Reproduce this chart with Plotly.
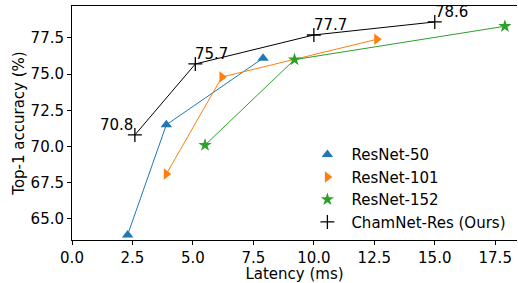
import plotly.graph_objects as go

# Data
r50_lat = [2.3, 3.9, 7.9]
r50_acc = [63.9, 71.5, 76.1]
r101_lat = [3.9, 6.2, 12.6]
r101_acc = [68.1, 74.8, 77.4]
r152_lat = [5.5, 9.2, 17.9]
r152_acc = [70.1, 76.0, 78.3]
cham_lat = [2.6, 5.1, 10.0, 15.0]
cham_acc = [70.8, 75.7, 77.7, 78.6]
cham_labels = ["70.8", "75.7", "77.7", "78.6"]

xticks = [0, 2.5, 5, 7.5, 10, 12.5, 15, 17.5]
yticks = [65, 67.5, 70, 72.5, 75, 77.5]

FONT = "DejaVu Sans"
FS = 15
series = [
    ("ResNet-50", r50_lat, r50_acc, "#1f77b4", "triangle-up", 10, 0),
    ("ResNet-101", r101_lat, r101_acc, "#ff7f0e", "triangle-right", 10, 0),
    ("ResNet-152", r152_lat, r152_acc, "#2ca02c", "star", 10, 0),
    ("ChamNet-Res (Ours)", cham_lat, cham_acc, "black", "cross-thin", 10, 1.3),
]

fig = go.Figure()
for name, xs, ys, col, sym, sz, lw in series:
    fig.add_trace(go.Scatter(
        x=xs, y=ys, mode="lines+markers", showlegend=False,
        line=dict(color=col, width=1),
        marker=dict(symbol=sym, size=sz, color=col, line=dict(color=col, width=lw)),
    ))
for name, xs, ys, col, sym, sz, lw in series:
    fig.add_trace(go.Scatter(
        x=[None], y=[None], mode="markers", name=name,
        marker=dict(symbol=sym, size=sz, color=col, line=dict(color=col, width=lw)),
    ))

for i, (x, y, t) in enumerate(zip(cham_lat, cham_acc, cham_labels)):
    fig.add_annotation(
        x=x, y=y, text=t, showarrow=False,
        xanchor="right" if i == 0 else "left", yanchor="bottom",
        xshift=0 if i == 0 else -2, yshift=-1,
        font=dict(family=FONT, size=FS, color="black"),
    )

axis_common = dict(
    showgrid=False, zeroline=False, showline=True, linecolor="black", linewidth=1,
    ticks="outside", ticklen=4, tickcolor="black", automargin=False,
    tickfont=dict(family=FONT, size=FS, color="black"),
)
fig.update_xaxes(range=[0, 18.4], tickvals=xticks,
                 ticktext=[f"{v:.1f}" for v in xticks], mirror=True,
                 title=dict(text="Latency (ms)", font=dict(family=FONT, size=FS, color="black"), standoff=2),
                 **axis_common)
fig.update_yaxes(range=[63.55, 79.7], tickvals=yticks,
                 ticktext=[f"{v:.1f}" for v in yticks],
                 title=dict(text="Top-1 accuracy (%)", font=dict(family=FONT, size=FS, color="black"), standoff=2),
                 **axis_common)

fig.update_layout(
    width=518, height=283,
    margin=dict(l=72, r=1, t=6, b=43),
    paper_bgcolor="white", plot_bgcolor="white",
    font=dict(family=FONT, size=FS, color="black"),
    legend=dict(x=0.52, y=0.435, xanchor="left", yanchor="top", itemwidth=38,
                bgcolor="rgba(0,0,0,0)", font=dict(family=FONT, size=FS)),
)

fig.write_html("out.html", config={"displayModeBar": False},
               post_script="document.body.style.margin='0';document.body.style.overflow='hidden';")
